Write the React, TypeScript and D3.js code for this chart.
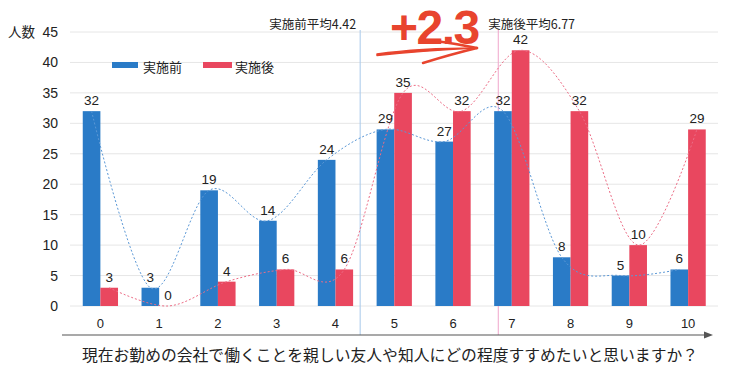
import React, { useEffect } from 'react';
import * as d3 from 'd3';

const categories = ['0', '1', '2', '3', '4', '5', '6', '7', '8', '9', '10'];
const before = [32, 3, 19, 14, 24, 29, 27, 32, 8, 5, 6];
const after = [3, 0, 4, 6, 6, 35, 32, 42, 32, 10, 29];
const yTicks = [0, 5, 10, 15, 20, 25, 30, 35, 40, 45];
const seriesNames = ['実施前', '実施後'];
const meanBefore = 4.42;
const meanAfter = 6.77;
const diffLabel = '+2.3';
const xTitle = '現在お勤めの会社で働くことを親しい友人や知人にどの程度すすめたいと思いますか？';

const BLUE = '#2a7bc7';
const RED = '#e9475f';
const NUM_FONT = '"Liberation Sans", Arial, "Noto Sans CJK JP", sans-serif';
const JP_FONT = '"Noto Sans CJK JP", "Liberation Sans", sans-serif';

export default function App() {
  useEffect(() => {
    document.body.style.margin = '0';
  }, []);

  const width = 740;
  const height = 370;

  const x = d3.scaleBand<string>()
    .domain(categories)
    .range([71, 717.5])
    .paddingInner(0.4)
    .paddingOuter(0.2);
  const bw = x.bandwidth() / 2;
  const center = (i: number) => (x(categories[i]) as number) + x.bandwidth() / 2;

  // category index -> x, used for the mean lines
  const xIdx = d3.scaleLinear().domain([0, categories.length - 1]).range([center(0), center(categories.length - 1)]);

  const y = d3.scaleLinear().domain([0, 45]).range([306, 32]);

  const blueLine = d3.line<number>()
    .x((_, i) => center(i) - bw / 2)
    .y(d => y(d))
    .curve(d3.curveCardinal.tension(0));
  const redLine = d3.line<number>()
    .x((_, i) => center(i) + bw / 2)
    .y(d => y(d))
    .curve(d3.curveCardinal.tension(0));

  const mb = xIdx(meanBefore);
  const ma = xIdx(meanAfter);

  return (
    <svg width={width} height={height} style={{ display: 'block', background: '#fff' }}>
      {/* grid */}
      {yTicks.map(t => (
        <line key={t} x1={70} x2={718} y1={y(t)} y2={y(t)} stroke="#e6e6e6" strokeWidth={1} />
      ))}
      {yTicks.map(t => (
        <text key={'yt' + t} x={58} y={y(t) + 5} textAnchor="end" fontSize={14} fontFamily={NUM_FONT} fill="#222">{t}</text>
      ))}
      <text x={8} y={37} fontSize={13.5} fontFamily={JP_FONT} fill="#222">人数</text>

      {/* mean lines */}
      <line x1={mb} x2={mb} y1={30} y2={335} stroke="#a8c8ea" strokeWidth={1} />
      <line x1={ma} x2={ma} y1={30} y2={335} stroke="#f0a6cc" strokeWidth={1} />
      <text x={mb - 4} y={29} textAnchor="end" fontSize={12.5} fontFamily={JP_FONT} fill="#222">{`実施前平均${meanBefore}`}</text>
      <text x={ma - 10} y={29} fontSize={12.5} fontFamily={JP_FONT} fill="#222">{`実施後平均${meanAfter}`}</text>

      {/* bars */}
      {before.map((v, i) => (
        <rect key={'b' + i} x={x(categories[i])} y={y(v)} width={bw} height={y(0) - y(v)} fill={BLUE} />
      ))}
      {after.map((v, i) => (
        <rect key={'a' + i} x={(x(categories[i]) as number) + bw} y={y(v)} width={bw} height={y(0) - y(v)} fill={RED} />
      ))}

      {/* smoothed dotted lines */}
      <path d={blueLine(before) || ''} fill="none" stroke="#5b98d6" strokeWidth={1} strokeDasharray="2,2" />
      <path d={redLine(after) || ''} fill="none" stroke="#ec6d86" strokeWidth={1} strokeDasharray="2,2" />

      {/* value labels */}
      {before.map((v, i) => (
        <text key={'lb' + i} x={center(i) - bw / 2} y={y(v) - 6} textAnchor="middle" fontSize={13.5} fontFamily={NUM_FONT} fill="#222">{v}</text>
      ))}
      {after.map((v, i) => (
        <text key={'la' + i} x={center(i) + bw / 2} y={y(v) - 6} textAnchor="middle" fontSize={13.5} fontFamily={NUM_FONT} fill="#222">{v}</text>
      ))}

      {/* x tick labels */}
      {categories.map((c, i) => (
        <text key={'xt' + c} x={center(i)} y={328} textAnchor="middle" fontSize={13} fontFamily={NUM_FONT} fill="#222">{c}</text>
      ))}

      {/* axis arrow */}
      <line x1={62} x2={708} y1={335} y2={335} stroke="#555" strokeWidth={1.2} />
      <path d="M704,331.5 L713,335 L704,338.5 Z" fill="#555" />
      <text x={390} y={361} textAnchor="middle" fontSize={15.8} fontFamily={JP_FONT} fill="#222">{xTitle}</text>

      {/* legend */}
      <rect x={112} y={62} width={26} height={6} fill={BLUE} />
      <text x={143} y={72} fontSize={13} fontFamily={JP_FONT} fill="#222">{seriesNames[0]}</text>
      <rect x={203} y={62} width={29} height={6} fill={RED} />
      <text x={235} y={72} fontSize={13} fontFamily={JP_FONT} fill="#222">{seriesNames[1]}</text>

      {/* +2.3 annotation */}
      <text x={390} y={44} fontSize={48} fontWeight="bold" fontFamily={NUM_FONT} fill="#e8442e" letterSpacing={-1.5}>{diffLabel}</text>
      <path d="M377,54 Q420,48 476,48 Q420,51 377,55.5 Z" fill="#e8442e" stroke="#e8442e" strokeWidth={1.5} strokeLinejoin="round" />
      <path d="M436,41 Q458,44 477,48" fill="none" stroke="#e8442e" strokeWidth={2.5} strokeLinecap="round" />
      <path d="M423,63 Q452,54 477,48" fill="none" stroke="#e8442e" strokeWidth={2.5} strokeLinecap="round" />
    </svg>
  );
}
